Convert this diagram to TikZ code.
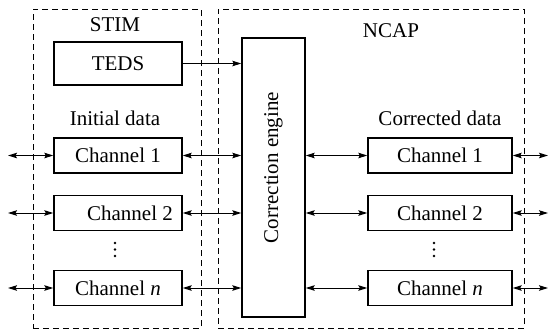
\documentclass[tikz,border=0pt]{standalone}
\usepackage{fontspec}
\setmainfont{Liberation Serif}
\usetikzlibrary{arrows.meta}
\begin{document}
\begin{tikzpicture}[x=1pt,y=-1pt,
  font=\fontsize{21}{25}\selectfont,
  box/.style={draw, line width=1.4pt, minimum height=35pt, inner sep=0pt},
  lbox/.style={box, minimum width=128pt},
  rbox/.style={box, minimum width=144pt},
  region/.style={draw, dash pattern=on 6pt off 4pt, line width=1pt, inner sep=0pt},
  tip/.tip={Stealth[length=9pt,width=5.5pt,inset=1.5pt]},
  link/.style={line width=1pt, tip-tip},
  feed/.style={line width=1pt, -tip},
  label/.style={inner sep=0pt},
  dot/.style={circle, fill, inner sep=0pt, minimum size=2.8pt}]
\useasboundingbox (0,0) rectangle (552,333);

% dashed module outlines
\node[region, minimum width=168pt, minimum height=319pt] (stim) at (117,168.5) {};
\node[region, minimum width=306pt, minimum height=319pt] (ncap) at (371,168.5) {};
\node[label] (stimlbl) at (115,25) {STIM};
\node[label] (ncaplbl) at (391,31) {NCAP};

% STIM side
\node[box, minimum width=128pt, minimum height=43pt] (teds) at (118,63.5) {TEDS};
\node[label] (initlbl) at (115,118) {Initial data};
\node[lbox] (l1) at (118,155.5) {Channel 1};
\node[lbox] (l2) at (118,213) {\hspace*{24pt}Channel 2};
\node[lbox] (ln) at (118,288) {Channel \textit{n}};
\foreach \y [count=\i] in {243,249.5,256}
  \node[dot] (ld\i) at (115,\y) {};

% correction engine
\node[draw, line width=1.4pt, minimum width=63pt, minimum height=279pt, inner sep=0pt] (engine) at (273.5,177.5) {};
\node[label, rotate=90] (englbl) at (273.5,167.5) {Correction engine};

% NCAP side
\node[label] (corrlbl) at (440,118) {Corrected data};
\node[rbox] (r1) at (440,155.5) {Channel 1};
\node[rbox] (r2) at (440,213) {Channel 2};
\node[rbox] (rn) at (440,288) {Channel \textit{n}};
\foreach \y [count=\i] in {243,249.5,256}
  \node[dot] (rd\i) at (434,\y) {};

% free ends of the outer links
\coordinate (o1) at (8,155.5);
\coordinate (o2) at (8,213);
\coordinate (on) at (8,288);
\coordinate (p1) at (548,155.5);
\coordinate (p2) at (548,213);
\coordinate (pn) at (548,288);

% connectors
\draw[feed] (teds.east) -- (teds.east -| engine.west);
\foreach \c in {1,2,n} {
  \draw[link] (o\c) -- (l\c.west);
  \draw[link] (l\c.east) -- (l\c.east -| engine.west);
  \draw[link] (r\c.west -| engine.east) -- (r\c.west);
  \draw[link] (r\c.east) -- (p\c);
}
\end{tikzpicture}
\end{document}
